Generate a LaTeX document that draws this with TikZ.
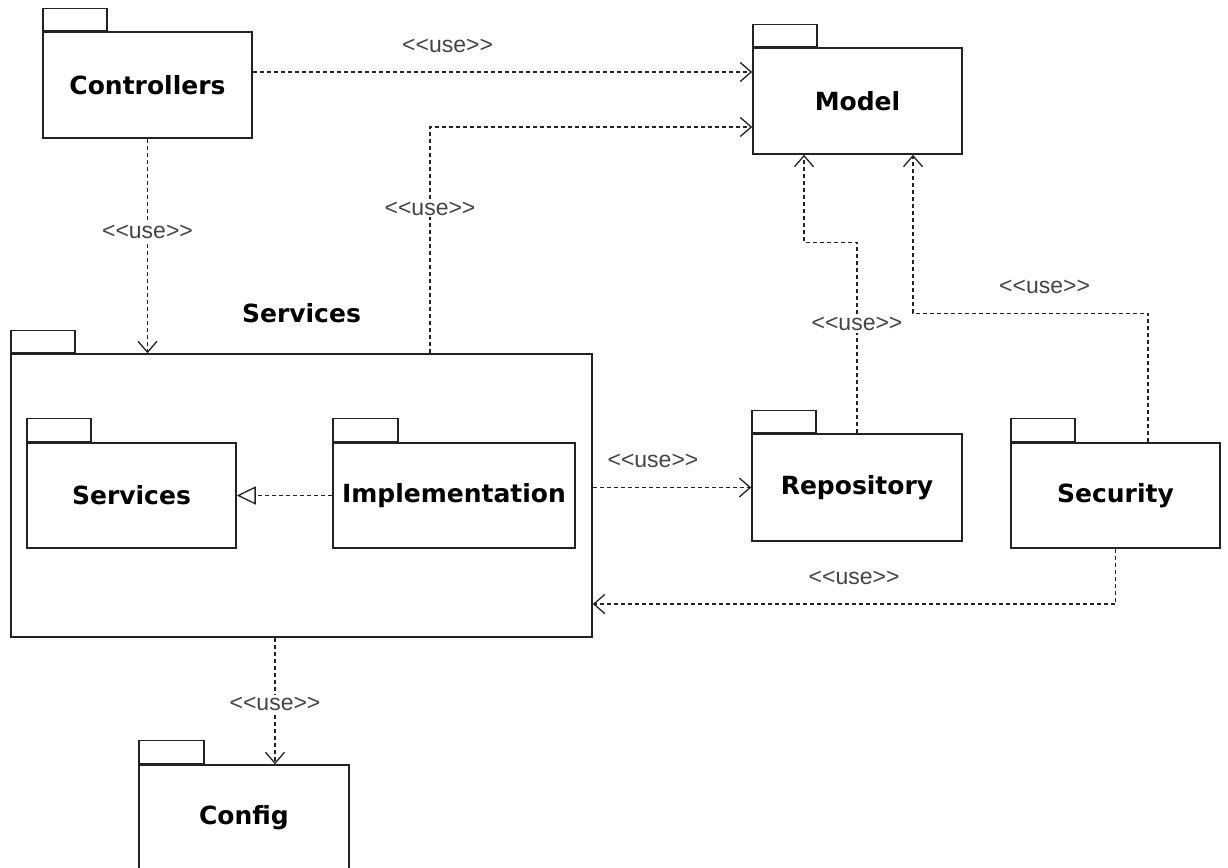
\documentclass[tikz,border=0pt]{standalone}
\usepackage{fontspec}
\usepackage{tikz}
\usetikzlibrary{arrows.meta,positioning,calc}
\newfontfamily\pkgfont{DejaVu Sans}
\newfontfamily\lblfont{Liberation Sans}[Ligatures=TeXOff]
\definecolor{linegray}{HTML}{222222}
\definecolor{textgray}{HTML}{444444}

\begin{document}
\begin{tikzpicture}[
  x=1pt, y=-1pt,
  pkg/.style={draw=linegray, line width=1.5pt, fill=white, font=\pkgfont\bfseries\fontsize{25}{28}\selectfont, inner sep=0pt},
  tab/.style={draw=linegray, line width=1.5pt, fill=white, minimum width=64pt, minimum height=22pt, inner sep=0pt, anchor=south west},
  use/.style={draw=linegray, line width=1.3pt, dash pattern=on 4pt off 3pt, -{Straight Barb[length=11pt, width=19pt]}},
  impl/.style={draw=linegray, line width=1.3pt, dash pattern=on 4pt off 3pt, -{Triangle[open, length=19pt, width=18pt]}},
  lbl/.style={font=\lblfont\fontsize{23}{26}\selectfont, text=textgray, inner sep=2pt},
  title/.style={font=\pkgfont\bfseries\fontsize{25}{28}\selectfont, inner sep=2pt},
]
\useasboundingbox (0,0) rectangle (1228,867);
\clip (0,0) rectangle (1228,867);

% Top row
\node[pkg, minimum width=209pt, minimum height=106pt] (ctrl) at (147.5,85) {Controllers};
\node[tab] (ctrltab) at (ctrl.north west) {};
\node[pkg, minimum width=209pt, minimum height=106pt] (model) at (857.5,101) {Model};
\node[tab] (modeltab) at (model.north west) {};

% Services package with its contents
\node[pkg, minimum width=581pt, minimum height=283pt] (svc) at (301.5,495.5) {};
\node[tab] (svctab) at (svc.north west) {};
\node[title, above=28pt of svc.north] (svctitle) {Services};
\node[pkg, minimum width=209pt, minimum height=105pt] (isvc) at (131.5,495.5) {Services};
\node[tab, minimum height=23pt] (isvctab) at (isvc.north west) {};
\node[pkg, minimum width=242pt, minimum height=105pt] (impl) at (454,495.5) {Implementation};
\node[tab, minimum height=23pt, minimum width=65pt] (impltab) at (impl.north west) {};

% Right side
\node[pkg, minimum width=210pt, minimum height=107pt] (repo) at (857,487.5) {Repository};
\node[tab] (repotab) at (repo.north west) {};
\node[pkg, minimum width=209pt, minimum height=105pt] (sec) at (1115.5,495.5) {Security};
\node[tab, minimum height=23pt] (sectab) at (sec.north west) {};

% Bottom
\node[pkg, minimum width=210pt, minimum height=106pt] (cfg) at (244,818) {Config};
\node[tab, minimum height=23pt, minimum width=65pt] (cfgtab) at (cfg.north west) {};
\coordinate (cfgin) at ([xshift=31pt]cfg.north);

% Dependencies
\draw[use] ([yshift=13pt]ctrl.east) -- node[lbl, pos=0.39, above=17pt]{<<use>>} ([yshift=29pt]model.west);
\draw[use] (ctrl.south) -- node[lbl, fill=white, pos=0.435]{<<use>>} (ctrl.south |- svc.north);
\draw[use] ([xshift=128.5pt]svc.north) |- node[lbl, fill=white, pos=0.32]{<<use>>} ([yshift=-26pt]model.west);
\draw[use] (repo.north) -- node[lbl, fill=white, pos=0.57]{<<use>>} ++(0,-191) -| ([xshift=-53.5pt]model.south);
\draw[use] ([xshift=32.5pt]sec.north) -- ++(0,-129) -| node[lbl, pos=0.22, above=17pt]{<<use>>} ([xshift=55.5pt]model.south);
\draw[use] (sec.south) |- node[lbl, pos=0.75, above=17pt]{<<use>>} ([yshift=-108.5pt]svc.east);
\draw[use] (svc.east |- repo.west) -- node[lbl, pos=0.38, above=17pt]{<<use>>} (repo.west);
\draw[impl] (impl.west) -- (isvc.east);
\draw[use] (svc.south -| cfgin) -- node[lbl, fill=white, pos=0.52]{<<use>>} (cfgin);

\end{tikzpicture}
\end{document}
